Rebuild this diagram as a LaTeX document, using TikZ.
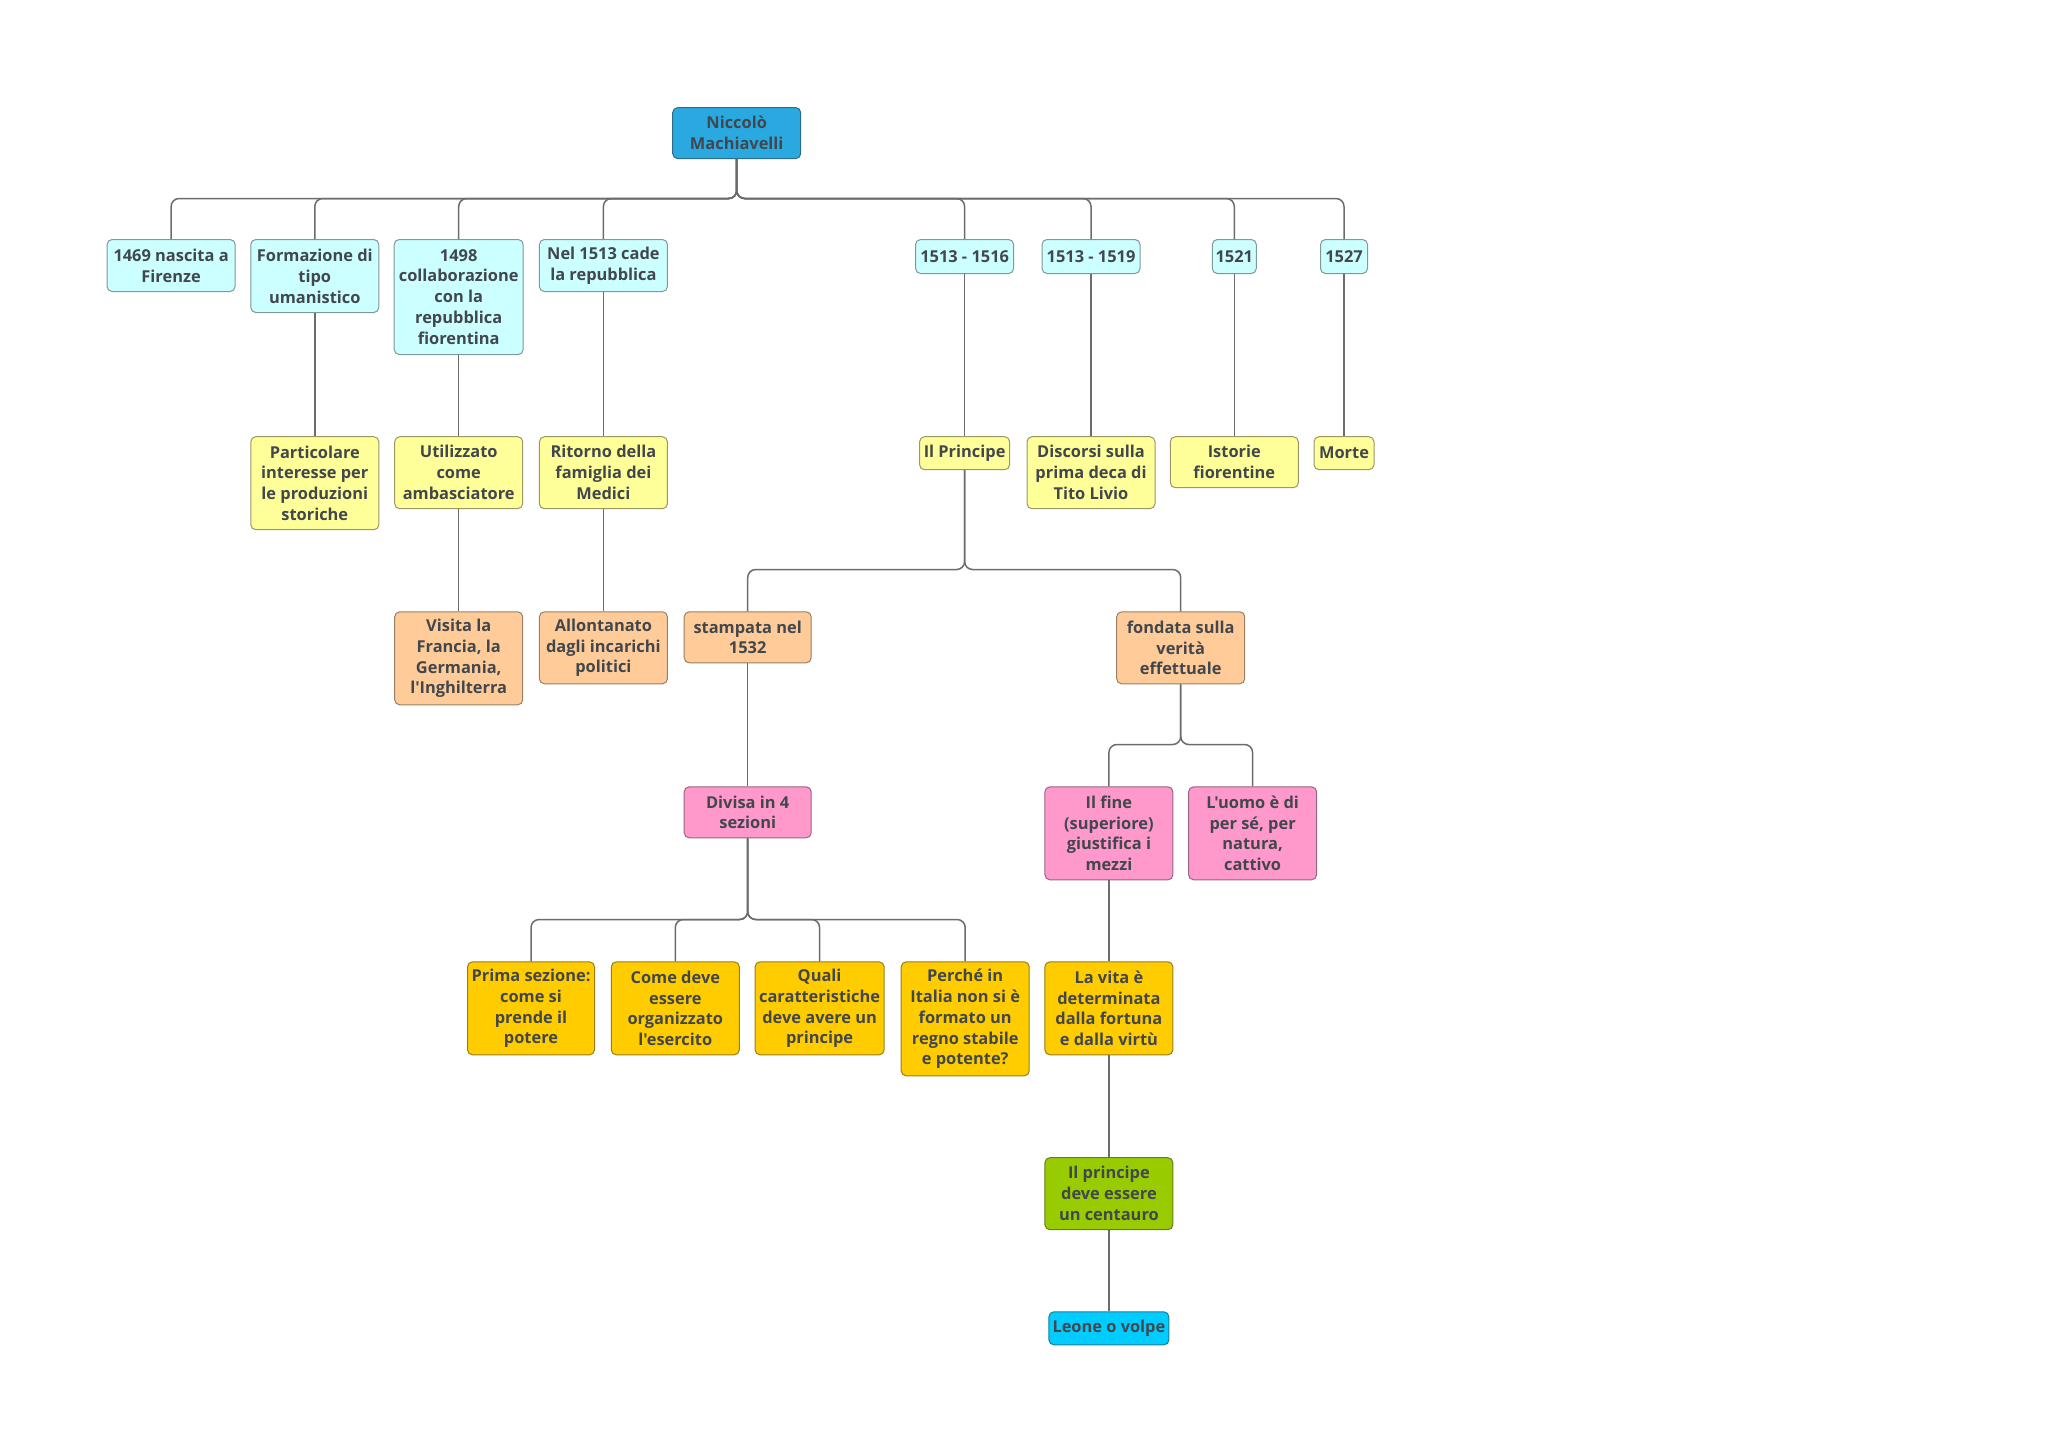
\documentclass[tikz,border=0pt]{standalone}
\usepackage{fontspec}
\newfontfamily\ofont{Open Sans}
\definecolor{txt}{HTML}{41474D}
\definecolor{lnc}{HTML}{6C6C6C}
\definecolor{rootc}{HTML}{29A9E0}
\definecolor{cyanL}{HTML}{CCFFFF}
\definecolor{yelL}{HTML}{FFFF99}
\definecolor{orL}{HTML}{FFCC99}
\definecolor{pinkL}{HTML}{FF99CC}
\definecolor{goldL}{HTML}{FFCC00}
\definecolor{greenL}{HTML}{99CC00}
\definecolor{skyL}{HTML}{00CCFF}
\tikzset{
  box/.style={rounded corners=2.5pt, draw=#1!62!black!80!gray, fill=#1, line width=0.5pt,
    inner sep=0pt, align=center, text=txt, anchor=north,
    font=\ofont\bfseries\fontsize{8.2pt}{10.45pt}\selectfont},
  conn/.style={draw=lnc, line width=0.75pt, rounded corners=4pt},
}
\begin{document}
\begin{tikzpicture}[x=0.5pt,y=-0.5pt]
\useasboundingbox[fill=white] (0,0) rectangle (2048,1447);
% bus coordinates
\coordinate (b1) at (0,198.5);
\coordinate (b2) at (0,569.5);
\coordinate (b3) at (0,744.5);
\coordinate (b4) at (0,919.5);
% root
\node[box=rootc, minimum width=64pt, minimum height=25.5pt] (root) at (736.7,107.1) {Niccolò\\Machiavelli};
% level 1
\node[box=cyanL, minimum width=64pt, minimum height=26pt] (n1469) at (171.1,239) {1469 nascita a\\Firenze};
\node[box=cyanL, minimum width=64pt, minimum height=36.5pt] (form) at (314.8,239) {Formazione di\\tipo\\umanistico};
\node[box=cyanL, minimum width=64.5pt, minimum height=57.5pt] (n1498) at (458.7,239) {1498\\collaborazione\\con la\\repubblica\\fiorentina};
\node[box=cyanL, minimum width=64pt, minimum height=26pt] (nel) at (603.4,239) {Nel 1513 cade\\la repubblica};
\node[box=cyanL, minimum width=49pt, minimum height=17pt] (n1516) at (964.6,239) {1513 - 1516};
\node[box=cyanL, minimum width=49pt, minimum height=17pt] (n1519) at (1091,239) {1513 - 1519};
\node[box=cyanL, minimum width=22pt, minimum height=17pt] (n1521) at (1234.3,239) {1521};
\node[box=cyanL, minimum width=23.5pt, minimum height=17pt] (n1527) at (1344,239) {1527};
% level 2
\node[box=yelL, minimum width=64pt, minimum height=46.5pt] (part) at (314.8,436.2) {Particolare\\interesse per\\le produzioni\\storiche};
\node[box=yelL, minimum width=64pt, minimum height=36pt] (util) at (458.7,436.2) {Utilizzato\\come\\ambasciatore};
\node[box=yelL, minimum width=64pt, minimum height=36pt] (ritor) at (603.4,436.2) {Ritorno della\\famiglia dei\\Medici};
\node[box=yelL, minimum width=45pt, minimum height=16.5pt] (princ) at (964.6,436.2) {Il Principe};
\node[box=yelL, minimum width=64pt, minimum height=36pt] (disc) at (1091,436.2) {Discorsi sulla\\prima deca di\\Tito Livio};
\node[box=yelL, minimum width=64pt, minimum height=25.5pt] (istor) at (1234.3,436.2) {Istorie\\fiorentine};
\node[box=yelL, minimum width=30pt, minimum height=16.5pt] (morte) at (1344,436.2) {Morte};
% level 3
\node[box=orL, minimum width=64pt, minimum height=46.5pt] (visita) at (458.7,611.3) {Visita la\\Francia, la\\Germania,\\l'Inghilterra};
\node[box=orL, minimum width=64pt, minimum height=36pt] (allont) at (603.4,611.3) {Allontanato\\dagli incarichi\\politici};
\node[box=orL, minimum width=63.5pt, minimum height=25.5pt] (stampa) at (747.7,611.3) {stampata nel\\1532};
\node[box=orL, minimum width=64pt, minimum height=36pt] (fond) at (1180.7,611.3) {fondata sulla\\verità\\effettuale};
% level 4
\node[box=pinkL, minimum width=63.5pt, minimum height=25.5pt] (divisa) at (747.7,786.3) {Divisa in 4\\sezioni};
\node[box=pinkL, minimum width=64pt, minimum height=46.5pt] (fine) at (1108.9,786.3) {Il fine\\(superiore)\\giustifica i\\mezzi};
\node[box=pinkL, minimum width=64pt, minimum height=46.5pt] (uomo) at (1252.6,786.3) {L'uomo è di\\per sé, per\\natura,\\cattivo};
% level 5
\node[box=goldL, minimum width=63.5pt, minimum height=46.5pt] (prima) at (531,961.3) {Prima sezione:\\come si\\prende il\\potere};
\node[box=goldL, minimum width=64pt, minimum height=46.5pt] (come) at (675.3,961.3) {Come deve\\essere\\organizzato\\l'esercito};
\node[box=goldL, minimum width=64.5pt, minimum height=46.5pt] (quali) at (819.6,961.3) {Quali\\caratteristiche\\deve avere un\\principe};
\node[box=goldL, minimum width=64pt, minimum height=57pt] (perche) at (965.2,961.3) {Perché in\\Italia non si è\\formato un\\regno stabile\\e potente?};
\node[box=goldL, minimum width=64pt, minimum height=46.5pt] (vita) at (1108.9,961.3) {La vita è\\determinata\\dalla fortuna\\e dalla virtù};
% level 6 & 7
\node[box=greenL, minimum width=64pt, minimum height=36pt] (cent) at (1108.9,1157.2) {Il principe\\deve essere\\un centauro};
\node[box=skyL, minimum width=60pt, minimum height=16.5pt] (leone) at (1108.9,1311.3) {Leone o volpe};
% connectors: buses
\foreach \c in {n1469,form,n1498,nel,n1516,n1519,n1521,n1527}
  \draw[conn] (root.south) -- (root.south |- b1) -- (\c.north |- b1) -- (\c.north);
\foreach \c in {stampa,fond}
  \draw[conn] (princ.south) -- (princ.south |- b2) -- (\c.north |- b2) -- (\c.north);
\foreach \c in {fine,uomo}
  \draw[conn] (fond.south) -- (fond.south |- b3) -- (\c.north |- b3) -- (\c.north);
\foreach \c in {prima,come,quali,perche}
  \draw[conn] (divisa.south) -- (divisa.south |- b4) -- (\c.north |- b4) -- (\c.north);
% connectors: straight
\draw[conn] (form.south) -- (part.north);
\draw[conn] (n1498.south) -- (util.north);
\draw[conn] (util.south) -- (visita.north);
\draw[conn] (nel.south) -- (ritor.north);
\draw[conn] (ritor.south) -- (allont.north);
\draw[conn] (n1516.south) -- (princ.north);
\draw[conn] (n1519.south) -- (disc.north);
\draw[conn] (n1521.south) -- (istor.north);
\draw[conn] (n1527.south) -- (morte.north);
\draw[conn] (stampa.south) -- (divisa.north);
\draw[conn] (fine.south) -- (vita.north);
\draw[conn] (vita.south) -- (cent.north);
\draw[conn] (cent.south) -- (leone.north);
\end{tikzpicture}
\end{document}
